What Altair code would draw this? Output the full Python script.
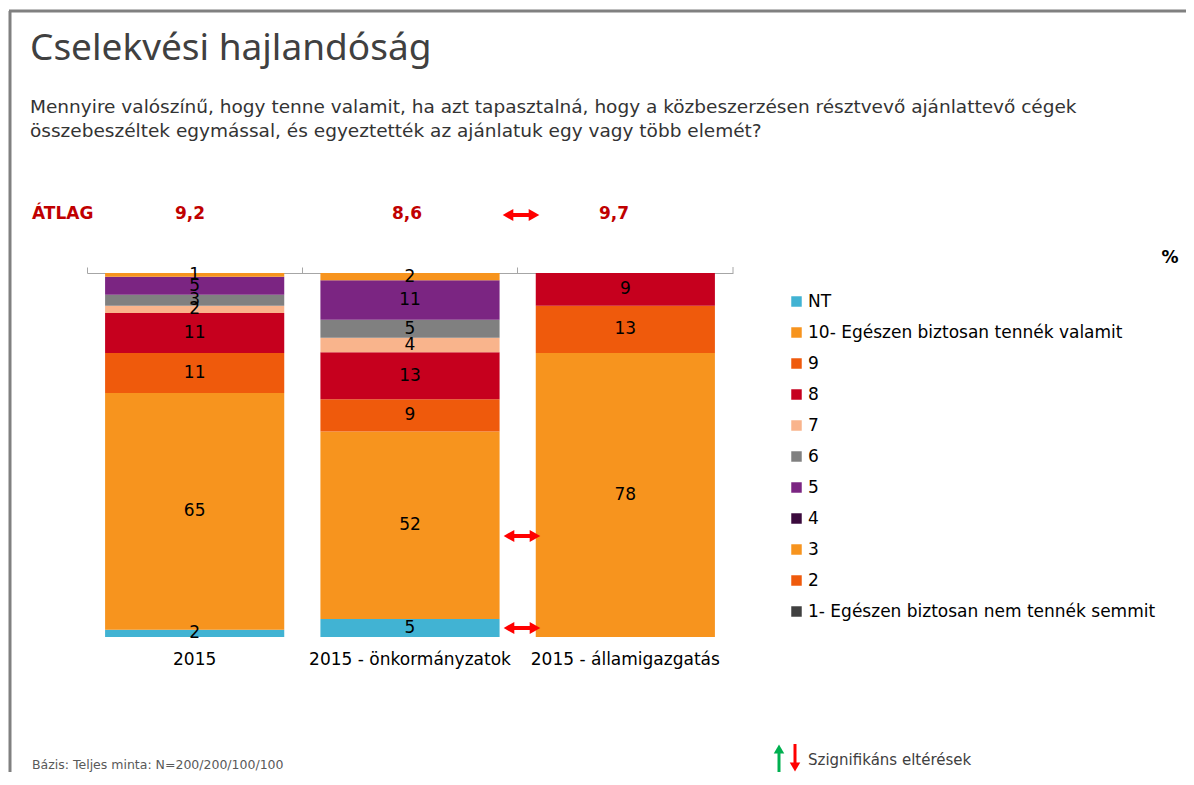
import altair as alt
import pandas as pd

# ---------------- data ----------------
groups = ["2015", "2015 - önkormányzatok", "2015 - államigazgatás"]
answers = ["NT", "10- Egészen biztosan tennék valamit", "9", "8", "7", "6", "5", "4", "3", "2",
           "1- Egészen biztosan nem tennék semmit"]
colors = ["#41B3D3", "#F7941E", "#EF5A0C", "#C6001E", "#F9B48C", "#808080", "#7B2582",
          "#3B0A3D", "#F7941E", "#EF5A0C", "#404040"]
vals_2015 = [2, 65, 11, 11, 2, 3, 5, 0, 1, 0, 0]
vals_onk = [5, 52, 9, 13, 4, 5, 11, 0, 2, 0, 0]
vals_all = [0, 78, 13, 9, 0, 0, 0, 0, 0, 0, 0]
averages = ["9,2", "8,6", "9,7"]

rows = []
for g, vals in zip(groups, [vals_2015, vals_onk, vals_all]):
    for i, (a, v) in enumerate(zip(answers, vals)):
        rows.append({"group": g, "answer": a, "rank": i, "value": v})
df = pd.DataFrame(rows)

FONT = "DejaVu Sans"
W, H = 646, 364
one = alt.Data(values=[{"k": 0}])

xscale = alt.Scale(domain=groups, paddingInner=0, paddingOuter=0)

base = alt.Chart(df).transform_filter("datum.value > 0").transform_stack(
    stack="value", groupby=["group"], as_=["y0", "y1"],
    sort=[alt.SortField("rank", order="ascending")], offset="normalize"
).transform_calculate(mid="(datum.y0 + datum.y1) / 2")

bars = base.mark_bar(width={"band": 0.832}).encode(
    x=alt.X("group:N", scale=xscale, sort=groups,
            axis=alt.Axis(orient="top", labels=False, title=None, bandPosition=0,
                          domainColor="#A6A6A6", tickColor="#A6A6A6", tickSize=6)),
    y=alt.Y("y0:Q", scale=alt.Scale(domain=[0, 1]), axis=None),
    y2="y1:Q",
    color=alt.Color("answer:N", scale=alt.Scale(domain=answers, range=colors),
                    legend=alt.Legend(title=None, orient="none", legendX=701, legendY=20,
                                      labelFont=FONT, labelFontSize=17, labelColor="#000000",
                                      symbolType="square", symbolSize=110, symbolStrokeWidth=0,
                                      rowPadding=13, labelOffset=3, labelLimit=500)),
)

labels = base.mark_text(font=FONT, fontSize=17, color="#000000", baseline="middle").encode(
    x=alt.X("group:N", scale=xscale, sort=groups,
            axis=alt.Axis(orient="bottom", title=None, domain=False, ticks=False, tickSize=0,
                          labelPadding=14, labelFont=FONT, labelFontSize=17, labelLimit=400,
                          labelColor="#000000", labelAngle=0)),
    y=alt.Y("mid:Q", scale=alt.Scale(domain=[0, 1]), axis=None),
    text="value:Q",
)


def ann(text, x, y, align="left", size=16, color="#000000", weight="normal", font=FONT,
        baseline="middle", **kw):
    return alt.Chart(one).mark_text(text=text, align=align, fontSize=size, color=color,
                                    fontWeight=weight, font=font, baseline=baseline, **kw).encode(
        x=alt.value(x), y=alt.value(y))


def rule(x, x2, y, y2, color="#808080", w=3):
    return alt.Chart(one).mark_rule(color=color, strokeWidth=w).encode(
        x=alt.value(x), x2=alt.value(x2), y=alt.value(y), y2=alt.value(y2))


def point(x, y, shape, color, size=70):
    return alt.Chart(one).mark_point(shape=shape, filled=True, opacity=1, color=color,
                                     size=size, strokeWidth=0).encode(
        x=alt.value(x), y=alt.value(y))


def dbl_arrow(cx, cy, color="#FF0000"):
    return [rule(cx - 11, cx + 11, cy, cy, color=color, w=4),
            point(cx - 13, cy, "triangle-left", color, size=150),
            point(cx + 13, cy, "triangle-right", color, size=150)]


RED = "#C00000"
GREEN = "#00B050"
layers = [
    bars, labels,
    rule(W, W, -6, 0, color="#A6A6A6", w=1),
    rule(-78, 1099, -262, -262),
    rule(-77, -77, -262, 500),
    ann("Cselekvési hajlandóság", -57, -213, size=37, color="#404040", font="Noto Sans",
        baseline="alphabetic"),
    ann(["Mennyire valószínű, hogy tenne valamit, ha azt tapasztalná, hogy a közbeszerzésen résztvevő ajánlattevő cégek",
         "összebeszéltek egymással, és egyeztették az ajánlatuk egy vagy több elemét?"],
        -57, -160, size=18.5, color="#333333", baseline="alphabetic", lineHeight=24),
    ann("ÁTLAG", -55, -59, size=17, color=RED, weight="bold"),
    ann(averages[0], 103, -59, align="center", size=17, color=RED, weight="bold"),
    ann(averages[1], 320, -59, align="center", size=17, color=RED, weight="bold"),
    ann(averages[2], 527, -59, align="center", size=17, color=RED, weight="bold"),
    *dbl_arrow(434, -58),
    *dbl_arrow(435, 263),
    *dbl_arrow(435, 355),
    ann("%", 1083, -15, align="center", size=17, weight="bold"),
    ann("Bázis: Teljes minta: N=200/200/100/100", -55, 492, size=12.5, color="#595959"),
    rule(692, 692, 478, 499, color=GREEN, w=3),
    point(692, 476, "triangle-up", GREEN, size=110),
    rule(708, 708, 471, 492, color="#FF0000", w=3),
    point(708, 494, "triangle-down", "#FF0000", size=110),
    ann("Szignifikáns eltérések", 721, 487, size=15, color="#404040"),
]

chart = alt.layer(*layers).resolve_axis(x="independent").properties(
    width=W, height=H,
    autosize=alt.AutoSizeParams(type="none"),
    padding={"left": 79, "top": 265, "right": 453, "bottom": 135},
).configure_view(stroke=None)

chart.save("out.html", embed_options={"renderer": "svg", "actions": False})
